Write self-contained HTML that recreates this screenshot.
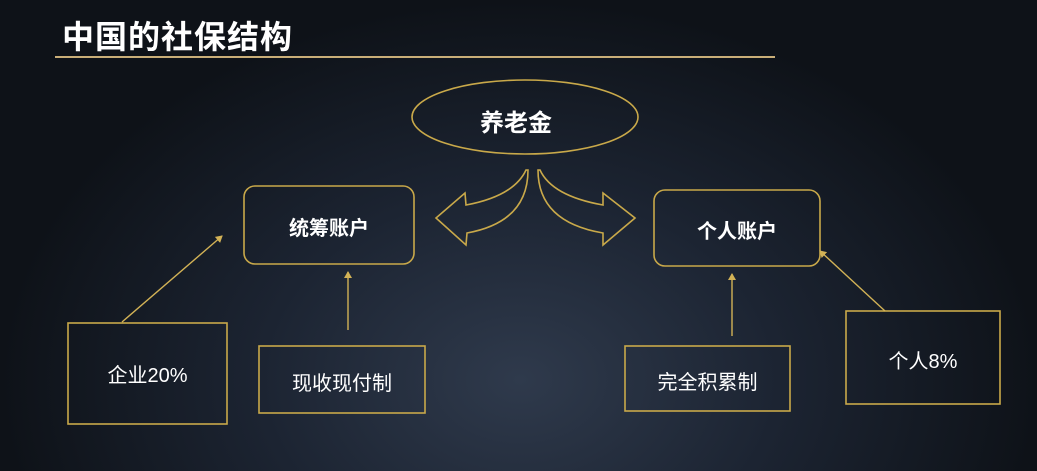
<!DOCTYPE html>
<html><head><meta charset="utf-8"><style>
html,body{margin:0;padding:0}
body{width:1037px;height:471px;overflow:hidden;position:relative;
background:radial-gradient(ellipse 520px 380px at 520px 380px,#2f3a4c 0%,#1c2432 50%,#0e1218 100%);
font-family:"Liberation Sans","Noto Sans CJK SC",sans-serif;color:#fff}
.t{position:absolute;white-space:nowrap}
</style></head><body>
<svg width="1037" height="471" style="position:absolute;left:0;top:0">
<defs><marker id="a" markerWidth="8" markerHeight="8" refX="6" refY="4" orient="auto" markerUnits="userSpaceOnUse"><path d="M0,0 L7,4 L0,8 Z" fill="#d2b256"/></marker></defs>
<line x1="55" y1="57" x2="775" y2="57" stroke="#c9ae78" stroke-width="2"/>
<g fill="none" stroke="#c9a94a" stroke-width="1.6">
<ellipse cx="525" cy="117" rx="113" ry="37"/>
<rect x="244" y="186" width="170" height="78" rx="11"/>
<rect x="654" y="190" width="166" height="76" rx="11"/>
<rect x="68" y="323" width="159" height="101"/>
<rect x="259" y="346" width="166" height="67"/>
<rect x="625" y="346" width="165" height="65"/>
<rect x="846" y="311" width="154" height="93"/>
<path d="M526,170 Q514,196 466,205 L465,193 L436,218 L466,245 L467,233 Q528,222 528,170 Z"/>
<path d="M540,170 Q552,196 603,205 L603,193 L635,218 L603,245 L603,233 Q538,222 538,170 Z"/>
</g>
<g stroke="#d2b256" stroke-width="1.4" marker-end="url(#a)">
<line x1="122" y1="322" x2="222" y2="236"/>
<line x1="348" y1="330" x2="348" y2="272"/>
<line x1="732" y1="336" x2="732" y2="274"/>
<line x1="885" y1="311" x2="820" y2="251"/>
</g>
</svg>
<div class="t" style="left:62px;top:12px;font-size:32px;font-weight:bold;letter-spacing:1px">中国的社保结构</div>
<div class="t" style="left:480px;top:103px;font-size:24px;font-weight:bold">养老金</div>
<div class="t" style="left:244px;width:170px;text-align:center;top:212px;font-size:20px;font-weight:bold">统筹账户</div>
<div class="t" style="left:654px;width:166px;text-align:center;top:215px;font-size:20px;font-weight:bold">个人账户</div>
<div class="t" style="left:68px;width:159px;text-align:center;top:359px;font-size:20px">企业20%</div>
<div class="t" style="left:259px;width:166px;text-align:center;top:367px;font-size:20px">现收现付制</div>
<div class="t" style="left:625px;width:165px;text-align:center;top:366px;font-size:20px">完全积累制</div>
<div class="t" style="left:846px;width:154px;text-align:center;top:345px;font-size:20px">个人8%</div>
</body></html>
